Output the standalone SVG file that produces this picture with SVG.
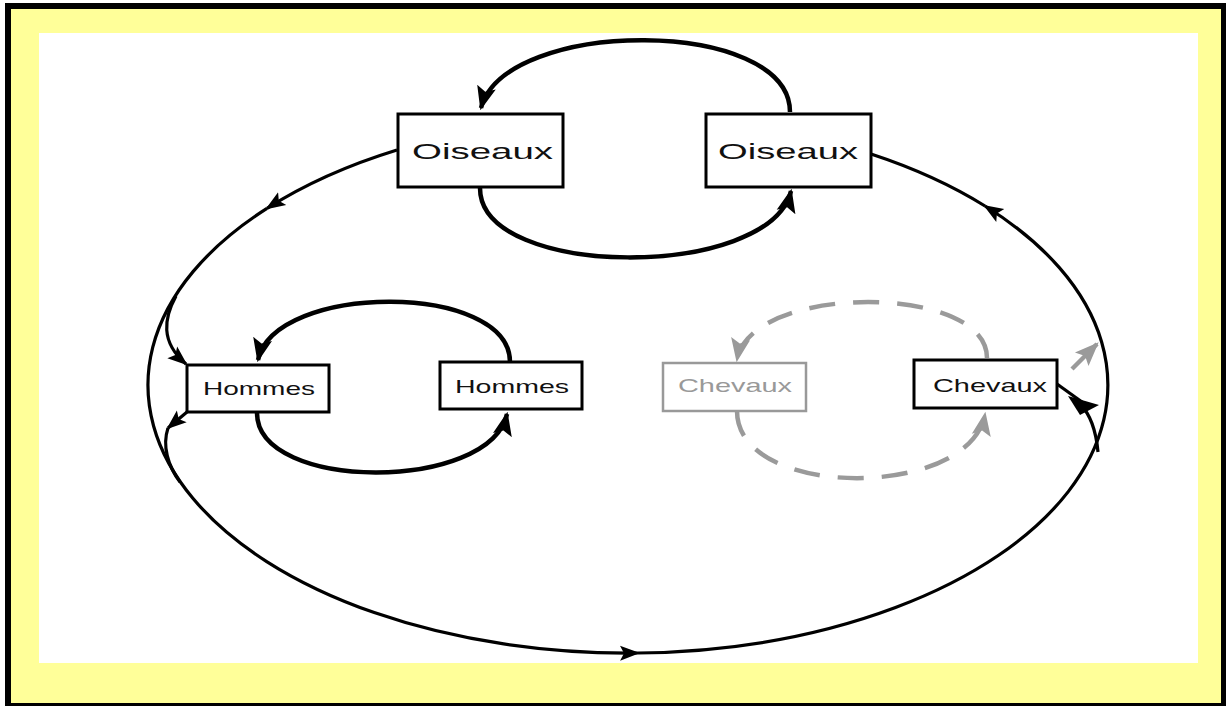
<svg xmlns="http://www.w3.org/2000/svg" width="1226" height="706" viewBox="0 0 1226 706">
<style>
.box{fill:#fff;stroke:#000;stroke-width:3}
.boxg{fill:#fff;stroke:#999;stroke-width:2.5}
.lbl{font-family:"Liberation Sans",Arial,sans-serif;fill:#111}
.lblg{font-family:"Liberation Sans",Arial,sans-serif;fill:#999}
.big{fill:none;stroke:#000;stroke-width:3.2}
.arc{fill:none;stroke:#000;stroke-width:4.5}
.dash{fill:none;stroke:#9a9a9a;stroke-width:4.5;stroke-dasharray:26 18}
</style>
<defs>
<marker id="ah" viewBox="0 0 10 10" refX="9" refY="5" markerWidth="24" markerHeight="24" markerUnits="userSpaceOnUse" orient="auto"><path d="M0,1 L10,5 L0,9 L2,5 z" fill="#000"/></marker>
<marker id="ahs" viewBox="0 0 10 10" refX="9" refY="5" markerWidth="20" markerHeight="20" markerUnits="userSpaceOnUse" orient="auto"><path d="M0,1.2 L10,5 L0,8.8 L2,5 z" fill="#000"/></marker>
<marker id="ahg" viewBox="0 0 10 10" refX="9" refY="5" markerWidth="24" markerHeight="24" markerUnits="userSpaceOnUse" orient="auto"><path d="M0,1 L10,5 L0,9 L2,5 z" fill="#9a9a9a"/></marker>
</defs>
<rect x="5" y="3" width="1221" height="703" fill="#000"/>
<rect x="11" y="9" width="1210" height="694" fill="#FFFF99"/>
<rect x="39" y="33" width="1159" height="630" fill="#fff"/>
<g id="connectors">
<path class="big" d="M397,150 A480,268 0 0 0 267,208.4" marker-end="url(#ahs)"/>
<path class="big" d="M267,208.4 A480,268 0 0 0 638,653" marker-end="url(#ahs)"/>
<path class="big" d="M638,653 A480,268 0 0 0 985,206" marker-end="url(#ahs)"/>
<path class="big" d="M985,206 A480,268 0 0 0 871,154"/>
<path class="big" d="M176,296 C164,318 160,342 186,364" marker-end="url(#ahs)"/>
<path class="big" d="M187,412 L168,428" marker-end="url(#ahs)"/>
<path class="big" d="M168,428 C162,446 168,466 180,482"/>
<path class="big" d="M1098,452 C1096,430 1090,414 1080,404"/>
<path class="big" d="M1082,402 L1057,384"/>
<polygon points="1068,396 1099,405 1080,415" fill="#000"/>
<path class="arc" d="M790,112 C790,17 505,17 481,108" marker-end="url(#ah)"/>
<path class="arc" d="M480,188 C480,280 770,280 791,191" marker-end="url(#ah)"/>
<path class="arc" d="M510,362 C510,282 275,282 258,360" marker-end="url(#ah)"/>
<path class="arc" d="M257,413 C257,492 490,492 507,414" marker-end="url(#ah)"/>
<path class="dash" d="M987,358 C987,283 750,283 737,360" marker-end="url(#ahg)"/>
<path class="dash" d="M737,411 C737,500 970,500 985,414" marker-end="url(#ahg)"/>
<path fill="none" stroke="#9a9a9a" stroke-width="4.5" d="M1072,369 L1097,344" marker-end="url(#ahg)"/>
</g>
<g id="oiseaux1"><rect class="box" x="398" y="114" width="165" height="73"/><text class="lbl" x="412" y="159" font-size="22" textLength="141" lengthAdjust="spacingAndGlyphs">Oiseaux</text></g>
<g id="oiseaux2"><rect class="box" x="706" y="114" width="165" height="73"/><text class="lbl" x="718" y="159" font-size="22" textLength="140" lengthAdjust="spacingAndGlyphs">Oiseaux</text></g>
<g id="hommes1"><rect class="box" x="187" y="365" width="142" height="47" stroke-width="2.5"/><text class="lbl" x="203" y="395" font-size="19" textLength="112" lengthAdjust="spacingAndGlyphs">Hommes</text></g>
<g id="hommes2"><rect class="box" x="440" y="362" width="142" height="47"/><text class="lbl" x="455" y="393" font-size="19" textLength="114" lengthAdjust="spacingAndGlyphs">Hommes</text></g>
<g id="chevaux1"><rect class="boxg" x="663" y="363" width="143" height="48"/><text class="lblg" x="678" y="392" font-size="19" textLength="114" lengthAdjust="spacingAndGlyphs">Chevaux</text></g>
<g id="chevaux2"><rect class="box" x="914" y="360" width="143" height="48"/><text class="lbl" x="933" y="392" font-size="19" textLength="114" lengthAdjust="spacingAndGlyphs">Chevaux</text></g>
</svg>
